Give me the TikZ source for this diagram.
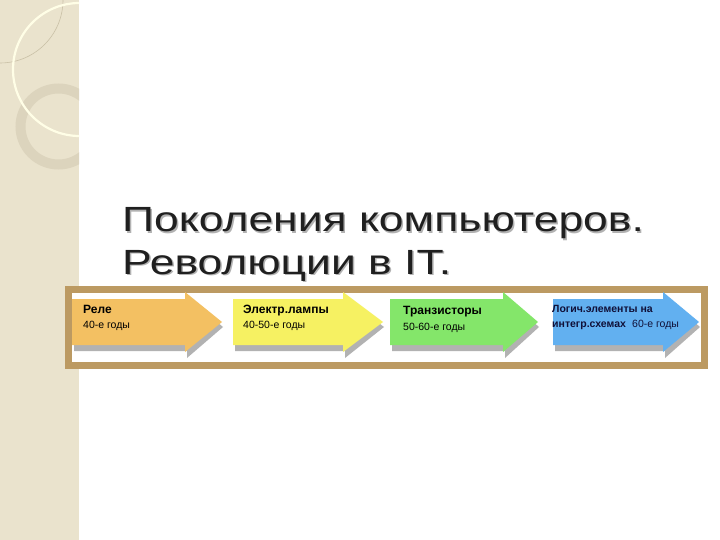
\documentclass[tikz,border=0pt]{standalone}
\usepackage{fontspec}
\setmainfont{Liberation Sans}
\newfontfamily\titlefont[FakeStretch=1.27]{Liberation Sans}
\definecolor{strip}{HTML}{EAE3CD}
\definecolor{ringc}{HTML}{DCD4BD}
\definecolor{leafc}{HTML}{C9C0A6}
\definecolor{frameb}{HTML}{BC9A62}
\definecolor{aorange}{HTML}{F3C062}
\definecolor{ayellow}{HTML}{F6F162}
\definecolor{agreen}{HTML}{84E66A}
\definecolor{ablue}{HTML}{62B0F0}
\definecolor{navy}{HTML}{101038}
\begin{document}
\begin{tikzpicture}[x=1pt,y=-1pt,
  titletext/.style={anchor=base west,inner sep=0pt,font=\titlefont\fontsize{35}{40}\selectfont,text=black!88},
  titleshadow/.style={titletext,text=black!30},
  headtext/.style={anchor=base west,inner sep=0pt,font=\fontsize{12}{14}\selectfont\bfseries},
  bluehead/.style={anchor=base west,inner sep=0pt,font=\fontsize{10.5}{12}\selectfont\bfseries,text=navy},
  subtext/.style={anchor=base west,inner sep=0pt,font=\fontsize{10.5}{12}\selectfont},
  arrowshadow/.style={fill=black!55,opacity=0.55}]
\useasboundingbox (0,0) rectangle (720,540);
\fill[white] (0,0) rectangle (720,540);
% left decorative strip
\fill[strip] (0,0) rectangle (79,540);
\begin{scope}
\clip (0,0) rectangle (79,540);
\draw[ringc,line width=10pt] (58.5,126.5) circle[radius=38];
\draw[leafc,line width=0.6pt] (63,0) arc[start angle=0,end angle=90,radius=63];
\draw[white!90!yellow,line width=2.2pt] (79.5,69.5) circle[radius=66.5];
\end{scope}
% title
\node[titleshadow] at (123.5,233.5) {Поколения компьютеров.};
\node[titleshadow] at (123.5,275.5) {Революции в IT.};
\node[titletext] (title1) at (122,232) {Поколения компьютеров.};
\node[titletext] (title2) at (122,274) {Революции в IT.};
% frame
\fill[white] (68.5,289.5) rectangle (704.5,365.5);
\draw[frameb,line width=7pt] (68.5,289.5) rectangle (704.5,365.5);
% arrows: left, head start, tip
\foreach \l/\h/\t/\c in {72/185/222/aorange,233/343/383/ayellow,390/503/538/agreen,553/663/699/ablue}{
  \fill[arrowshadow] (\l+2,304) -- (\h+2,304) -- (\h+2,297) -- (\t+1,327) -- (\h+2,358) -- (\h+2,351) -- (\l+2,351) -- cycle;
  \fill[\c] (\l,299) -- (\h,299) -- (\h,292) -- (\t,322) -- (\h,352) -- (\h,345) -- (\l,345) -- cycle;
}
% texts
\node[headtext] (t1) at (83,313) {Реле};
\node[subtext] (s1) at (83,328) {40-е годы};
\node[headtext] (t2) at (243,313) {Электр.лампы};
\node[subtext] (s2) at (243,328) {40-50-е годы};
\node[headtext] (t3) at (403,314) {Транзисторы};
\node[subtext] (s3) at (403,330) {50-60-е годы};
\node[bluehead] (t4) at (552,312) {Логич.элементы на};
\node[bluehead] (t5) at (552,327) {интегр.схемах};
\node[subtext,text=navy] (s4) at (632,327) {60-е годы};
\end{tikzpicture}
\end{document}
